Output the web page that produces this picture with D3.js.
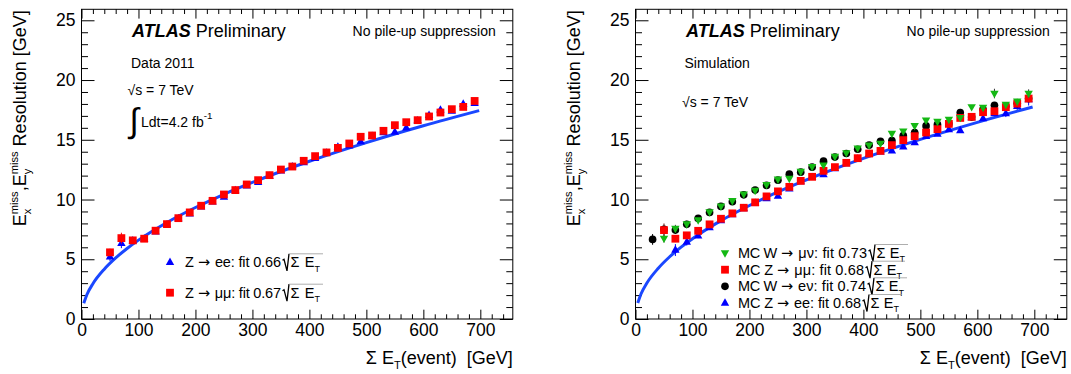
<!DOCTYPE html>
<html><head><meta charset="utf-8">
<script src="https://cdn.jsdelivr.net/npm/d3@7"></script>
<style>
body{margin:0;background:#fff}
svg{display:block;font-family:"Liberation Sans",Arial,Helvetica,sans-serif}
text{white-space:pre}
</style></head><body><svg id="c" width="1071" height="374"></svg>
<script>
// ---------- data ----------
const xTickValues = [0,100,200,300,400,500,600,700];
const yTickValues = [0,5,10,15,20,25];
const xTickLabels = ["0","100","200","300","400","500","600","700"];
const yTickLabels = ["0","5","10","15","20","25"];

// left panel (Data 2011)
const sumEtLeft = [50,70,90,110,130,150,170,190,210,230,250,270,290,310,330,350,370,390,410,430,450,470,490,510,530,550,570,590,610,630,650,670,690];
const dataZmumu = [5.58,6.77,6.58,6.72,7.39,7.94,8.44,8.92,9.48,9.89,10.42,10.79,11.26,11.62,12.04,12.51,12.76,13.24,13.63,13.94,14.32,14.69,15.25,15.36,15.75,16.22,16.47,16.64,16.95,17.28,17.56,17.75,18.25];
const errZmumu  = [0.3,0.45,0.2,0.15,0.1,0.1,0.1,0.1,0.1,0.1,0.1,0.1,0.1,0.1,0.1,0.1,0.1,0.1,0.1,0.1,0.1,0.1,0.1,0.1,0.1,0.1,0.1,0.1,0.1,0.1,0.15,0.15,0.15];
const dataZee   = [5.21,6.33,6.55,6.7,7.3,7.9,8.4,8.8,9.4,9.8,10.2,10.75,11.15,11.45,11.95,12.4,12.75,13.1,13.45,13.9,14.4,14.5,14.85,15.3,15.6,15.65,16.0,16.6,17.05,17.5,17.4,18.0,18.05];
const errZee    = [0.35,0.4,0.2,0.15,0.1,0.1,0.1,0.1,0.1,0.1,0.1,0.1,0.1,0.1,0.1,0.1,0.1,0.1,0.1,0.1,0.1,0.1,0.1,0.1,0.1,0.1,0.1,0.1,0.15,0.15,0.15,0.15,0.2];
const fitXLeft = [4,10,20,40,60,80,100,150,200,250,300,400,500,600,698];
const fitYLeft = [1.32,2.09,2.95,4.17,5.11,5.9,6.6,8.08,9.33,10.44,11.43,13.2,14.76,16.17,17.44];

// right panel (Simulation)
const sumEtWenu = [30,50,70,90,110,130,150,170,190,210,230,250,270,290,310,330,350,370,390,410,430,450,470,490,510,530,550,570,590,610,630,650,670,690];
const mcWenu    = [6.66,7.5,7.44,7.92,8.42,8.92,9.42,9.81,10.39,10.79,11.18,11.62,12.12,12.29,12.71,13.21,13.55,13.85,14.21,14.55,14.86,14.94,15.36,15.61,16.16,16.3,16.35,17.28,16.9,17.55,17.89,17.8,18.05,18.45];
const errWenu   = [0.45,0.3,0.3,0.3,0.15,0.1,0.1,0.1,0.1,0.1,0.1,0.1,0.1,0.1,0.1,0.1,0.1,0.1,0.1,0.1,0.1,0.1,0.1,0.1,0.15,0.15,0.15,0.3,0.15,0.2,0.2,0.2,0.35,0.2];
const sumEtMu   = [50,70,90,110,130,150,170,190,210,230,250,270,290,310,330,350,370,390,410,430,450,470,490,510,530,550,570,590,610,630,650,670,690];
const mcZmumu   = [7.44,6.72,7.0,7.38,7.92,8.39,8.84,9.31,9.76,10.26,10.68,11.06,11.56,11.9,12.4,12.71,13.07,13.46,13.85,14.07,14.55,14.97,15.3,15.61,15.89,16.33,16.83,16.92,17.31,17.39,17.73,18.03,18.45];
const errZmumuMC= [0.55,0.2,0.15,0.1,0.1,0.1,0.1,0.1,0.1,0.1,0.1,0.1,0.1,0.1,0.1,0.1,0.1,0.1,0.1,0.1,0.1,0.1,0.1,0.1,0.1,0.1,0.15,0.15,0.15,0.15,0.15,0.2,0.2];
const mcWmunu   = [6.75,7.58,7.95,8.28,8.95,9.45,9.9,10.45,10.75,11.25,11.7,11.76,12.35,12.75,12.88,13.6,13.9,14.3,14.55,14.7,15.52,15.72,16.17,16.64,16.53,16.7,16.85,17.75,17.7,18.87,17.95,18.23,18.87];
const errWmunu  = [0.35,0.3,0.2,0.15,0.1,0.1,0.1,0.1,0.1,0.1,0.1,0.1,0.1,0.1,0.1,0.1,0.1,0.1,0.1,0.1,0.1,0.1,0.1,0.1,0.1,0.1,0.15,0.15,0.15,0.4,0.2,0.2,0.35];
const sumEtZee  = [70,90,110,130,150,170,190,210,230,250,270,290,310,330,350,370,390,410,430,450,470,490,510,530,550,570,590,610,630,650,670,690];
const mcZee     = [5.77,6.45,6.97,7.66,8.25,8.75,9.25,9.7,10.09,10.28,10.89,11.5,11.85,12.1,12.6,13.0,13.4,13.8,14.0,14.07,14.41,14.77,15.3,15.47,15.86,15.78,16.85,16.78,17.2,17.2,17.8,18.37];
const errZeeMC  = [0.5,0.3,0.2,0.15,0.1,0.1,0.1,0.1,0.1,0.1,0.1,0.1,0.1,0.1,0.1,0.1,0.1,0.1,0.1,0.1,0.1,0.1,0.1,0.1,0.1,0.15,0.15,0.15,0.2,0.3,0.3,0.5];
const fitXRight = [4,10,20,40,60,80,100,150,200,250,300,400,500,600,697];
const fitYRight = [1.34,2.13,3.01,4.25,5.21,6.01,6.72,8.23,9.5,10.63,11.64,13.44,15.03,16.46,17.74];

// ---------- styling ----------
const RED="#ff0000", BLUE="#0000ff", GREEN="#14b814", BLACK="#000000", FITBLUE="#1a47ff";
const FONT=17.5;
const svg = d3.select("#c");

function rich(parent, parts, size){
  const g = parent.append("g");
  let cx=0, ls=0;
  for(const p of parts){
    const fs=size*(p.s||1);
    const sx=p.stack?ls:cx;
    const t=g.append("text").attr("x",sx).attr("y",(p.dy||0)*size).attr("font-size",fs).text(p.t);
    if(p.fw) t.attr("font-weight",p.fw);
    if(p.fi) t.attr("font-style","italic");
    if(p.ff) t.attr("font-family",p.ff);
    let w;
    if(p.len){ t.attr("textLength",p.len).attr("lengthAdjust","spacing"); w=p.len; }
    else w=t.node().getComputedTextLength();
    if(p.stack) cx=Math.max(cx,sx+w); else {ls=sx; cx=sx+w;}
  }
  return {g,w:cx};
}
function place(parent,x,y,parts,size,anchor,rot){
  const outer=parent.append("g").attr("transform",`translate(${x},${y}) rotate(${rot||0})`);
  const r=rich(outer,parts,size);
  if(anchor==="end") r.g.attr("transform",`translate(${-r.w},0)`);
  return r;
}
const SUB=0.62;

function markerPath(type){
  if(type==="square") return "M-3.9,-3.9H3.9V3.9H-3.9Z";
  if(type==="tri") return "M0,-4.7L4.2,2.7L-4.2,2.7Z";
  if(type==="tridown") return "M0,4.7L4.2,-2.7L-4.2,-2.7Z";
  return d3.symbol(d3.symbolCircle,46)();
}

function drawPanel(cfg){
  const L=cfg.left, W=431.3, T=9.3, B=319;
  const x=d3.scaleLinear().domain([0,757]).range([L,L+W]);
  const y=d3.scaleLinear().domain([0,25.92]).range([B,T]);
  const g=svg.append("g");
  g.append("rect").attr("x",L).attr("y",T).attr("width",W).attr("height",B-T).attr("fill","#fff");

  const xMinor=d3.range(0,757,20).filter(v=>v%100!==0);
  const yMinor=d3.range(0,26,1).filter(v=>v%5!==0);
  const axes=[
    [d3.axisBottom(x).tickValues(xTickValues).tickSize(-9.3).tickPadding(5).tickFormat((d,i)=>xTickLabels[i]),B,0],
    [d3.axisBottom(x).tickValues(xMinor).tickSize(-4.7).tickFormat(""),B,0],
    [d3.axisTop(x).tickValues(xTickValues).tickSize(-9.3).tickFormat(""),T,0],
    [d3.axisTop(x).tickValues(xMinor).tickSize(-4.7).tickFormat(""),T,0],
    [d3.axisLeft(y).tickValues(yTickValues).tickSize(-13).tickPadding(6).tickFormat((d,i)=>yTickLabels[i]),0,L],
    [d3.axisLeft(y).tickValues(yMinor).tickSize(-6.5).tickFormat(""),0,L],
    [d3.axisRight(y).tickValues(yTickValues).tickSize(-13).tickFormat(""),0,L+W],
    [d3.axisRight(y).tickValues(yMinor).tickSize(-6.5).tickFormat(""),0,L+W]
  ];
  axes.forEach(([ax,ty,tx])=>{
    const a=g.append("g").attr("transform",`translate(${tx},${ty})`).call(ax);
    a.select(".domain").remove();
    a.selectAll("line").attr("stroke","#000").attr("stroke-width",1);
    a.selectAll("text").attr("font-size",FONT).attr("fill","#000").attr("font-family",null);
  });
  g.append("rect").attr("x",L).attr("y",T).attr("width",W).attr("height",B-T).attr("fill","none").attr("stroke","#000").attr("stroke-width",1);

  // fit curve
  const line=d3.line().x(d=>x(d[0])).y(d=>y(d[1])).curve(d3.curveMonotoneX);
  g.append("path").datum(cfg.fitX.map((v,i)=>[v,cfg.fitY[i]])).attr("d",line)
    .attr("fill","none").attr("stroke",FITBLUE).attr("stroke-width",3);

  // series
  cfg.series.forEach(s=>{
    const sg=g.append("g");
    const pts=s.x.map((v,i)=>({x:v,y:s.y[i],e:s.e[i]}));
    sg.selectAll("line.err").data(pts).join("line").attr("class","err")
      .attr("x1",d=>x(d.x)).attr("x2",d=>x(d.x)).attr("y1",d=>y(d.y-d.e)).attr("y2",d=>y(d.y+d.e))
      .attr("stroke",s.ecolor||s.color).attr("stroke-width",1);
    sg.selectAll("path").data(pts).join("path").attr("d",markerPath(s.marker))
      .attr("transform",d=>`translate(${x(d.x)},${y(d.y)})`).attr("fill",s.color);
  });

  // axis titles
  place(g,L-55.5,T+1,[{t:"E"},{t:"miss",s:SUB,dy:-0.42},{t:"x",s:SUB,dy:0.3,stack:true},{t:","},{t:"E"},{t:"miss",s:SUB,dy:-0.42},{t:"y",s:SUB,dy:0.3,stack:true},{t:" Resolution [GeV]"}],18,"end",-90);
  place(g,L+W,364,[{t:"Σ E"},{t:"T",s:SUB,dy:0.3},{t:"(event)  [GeV]"}],18,"end",0);

  // labels
  place(g,L+50.5,36.5,[{t:"ATLAS",fw:"bold",fi:true},{t:" Preliminary"}],18,"start",0);
  place(g,L+W-17,36,[{t:"No pile-up suppression"}],14,"end",0);
  cfg.extra(g,L);

  // legend
  cfg.legend.forEach(it=>{
    g.append("path").attr("d",markerPath(it.marker)).attr("transform",`translate(${it.mx},${it.my})`).attr("fill",it.color);
    const base=it.my+5;
    place(g,it.tx,base,[{t:it.pre,len:it.w1},{t:"→",ff:"DejaVu Sans",len:13},{t:it.post,len:it.w2}],14.5,"start",0);
    const sx=it.tx+it.w1+13+it.w2+1.5;
    g.append("path").attr("d",`M${sx},${base-7} L${sx+1.5},${base-8} L${sx+4.5},${base+3.5} L${sx+6.5},${base-13.5}`)
      .attr("fill","none").attr("stroke","#000").attr("stroke-width",1.3);
    const r2=place(g,sx+8,base,[{t:"Σ E",len:it.w3},{t:"T",s:SUB,dy:0.3}],14.5,"start",0);
    g.append("line").attr("x1",sx+6.5).attr("x2",sx+8+r2.w+3).attr("y1",base-13.5).attr("y2",base-13.5)
      .attr("stroke","#999").attr("stroke-width",0.8);
  });
}

drawPanel({
  left:81.5, fitX:fitXLeft, fitY:fitYLeft,
  series:[
    {x:sumEtLeft,y:dataZee,e:errZee,color:BLUE,marker:"tri"},
    {x:sumEtLeft,y:dataZmumu,e:errZmumu,color:RED,marker:"square"}
  ],
  legend:[
    {marker:"tri",color:BLUE,mx:170,my:262.3,tx:185,pre:"Z ",w1:13,post:" ee: fit 0.66",w2:70,w3:24},
    {marker:"square",color:RED,mx:170,my:292.7,tx:185,pre:"Z ",w1:13,post:" μμ: fit 0.67",w2:70,w3:24}
  ],
  extra:(g,L)=>{
    place(g,L+49.5,67.7,[{t:"Data 2011"}],14,"start",0);
    place(g,L+46,95,[{t:"√s = 7 TeV"}],14,"start",0);
    g.append("text").attr("x",L+48).attr("y",132).attr("font-size",34).text("∫");
    place(g,L+59.5,127,[{t:"Ldt=4.2 fb"},{t:"-1",s:0.7,dy:-0.55}],14,"start",0);
  }
});

drawPanel({
  left:635.5, fitX:fitXRight, fitY:fitYRight,
  series:[
    {x:sumEtZee,y:mcZee,e:errZeeMC,color:BLUE,marker:"tri"},
    {x:sumEtWenu,y:mcWenu,e:errWenu,color:BLACK,marker:"circle"},
    {x:sumEtMu,y:mcZmumu,e:errZmumuMC,color:RED,marker:"square",ecolor:"#550000"},
    {x:sumEtMu,y:mcWmunu,e:errWmunu,color:GREEN,marker:"tridown",ecolor:"#333"}
  ],
  legend:[
    {marker:"tridown",color:GREEN,mx:725,my:253,tx:738,pre:"MC W ",w1:43,post:" μν: fit 0.73",w2:73,w3:23},
    {marker:"square",color:RED,mx:725,my:269.7,tx:738,pre:"MC Z ",w1:39,post:" μμ: fit 0.68",w2:74,w3:23},
    {marker:"circle",color:BLACK,mx:725,my:286.3,tx:738,pre:"MC W ",w1:43,post:" eν: fit 0.74",w2:72,w3:23},
    {marker:"tri",color:BLUE,mx:725,my:303,tx:738,pre:"MC Z ",w1:39,post:" ee: fit 0.68",w2:71,w3:23}
  ],
  extra:(g,L)=>{
    place(g,L+49,67.7,[{t:"Simulation"}],14,"start",0);
    place(g,L+46.5,106.5,[{t:"√s = 7 TeV"}],14,"start",0);
  }
});
</script></body></html>
